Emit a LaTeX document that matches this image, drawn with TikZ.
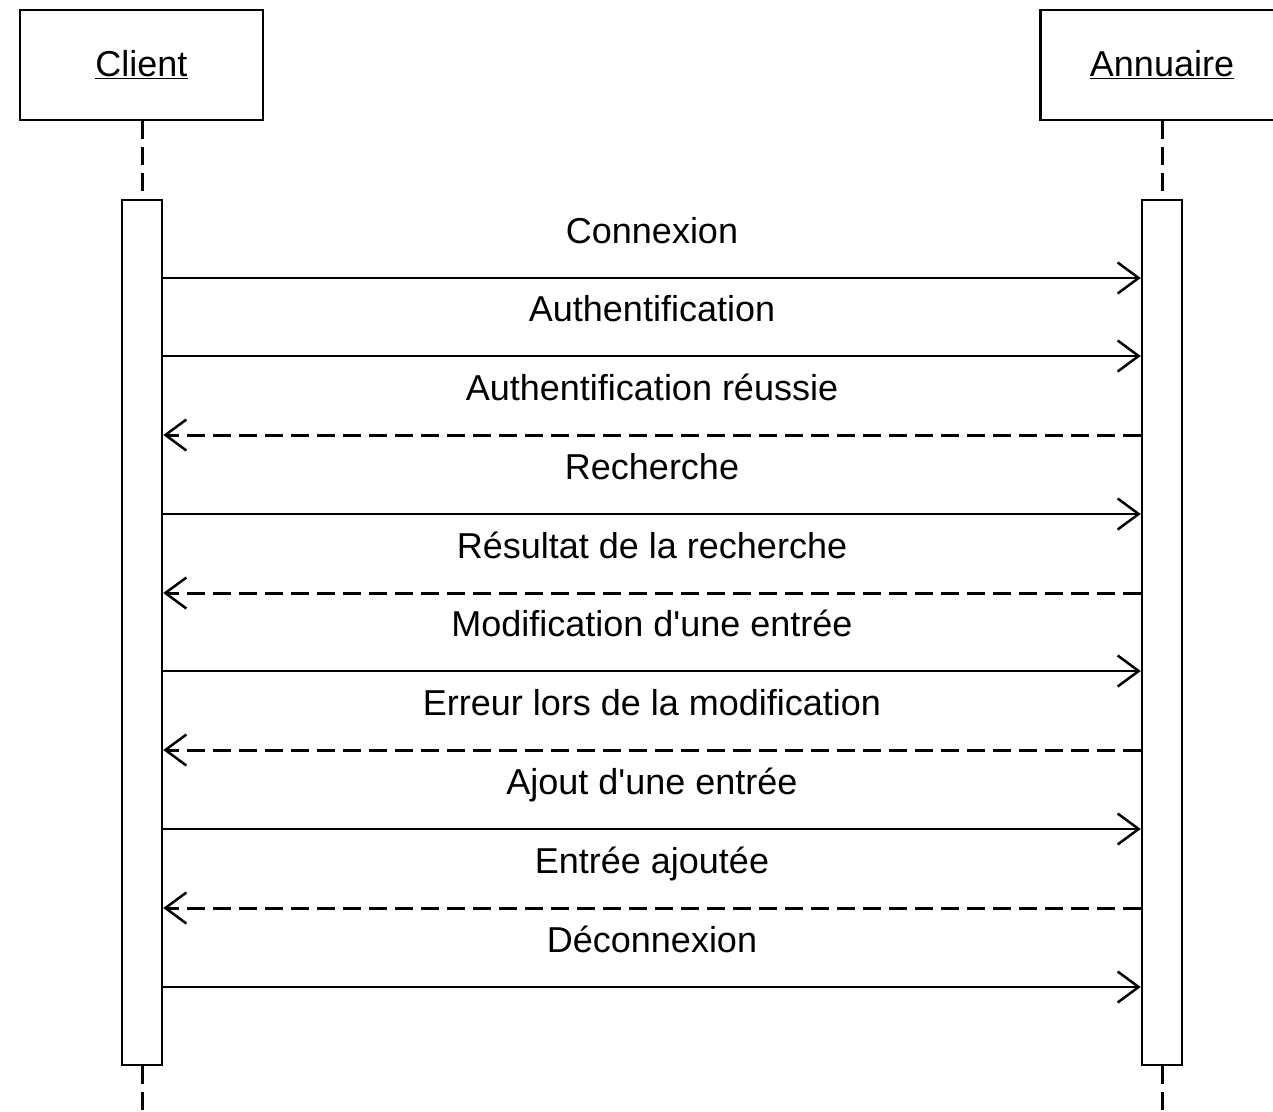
\documentclass[tikz,border=0pt]{standalone}
\usepackage{fontspec}
\setmainfont{Liberation Sans}
\usetikzlibrary{arrows.meta}
\begin{document}
\begin{tikzpicture}[x=1pt,y=-1pt, line width=2.5pt,
 actor/.style={draw, fill=white, minimum width=243pt, minimum height=110pt, inner sep=0pt, font=\fontsize{36}{42}\selectfont},
 actbar/.style={draw, fill=white, minimum width=40pt, minimum height=865pt, inner sep=0pt},
 life/.style={line width=3pt, dash pattern=on 18pt off 8pt},
 call/.style={-{Straight Barb[length=21pt,width=31pt,line width=2.5pt]}},
 reply/.style={call, line width=3pt, dash pattern=on 18pt off 8pt},
 lbl/.style={anchor=base, font=\fontsize{36}{42}\selectfont, inner sep=0pt}]
\useasboundingbox (0,0) rectangle (1273,1111);
\node[actor] (client) at (141.5,65) {\underline{Client}};
\node[actor] (annu) at (1162,65) {\underline{Annuaire}};
\node[actbar] (cbar) at (142,632.5) {};
\node[actbar] (abar) at (1162,632.5) {};
\coordinate (cend) at (142,1125);
\coordinate (aend) at (1162,1125);
\draw[life] (client.south -| cbar.north) -- (cbar.north);
\draw[life] (annu.south -| abar.north) -- (abar.north);
\draw[life] (cbar.south) -- (cend);
\draw[life] (abar.south) -- (aend);
\foreach \y/\t/\s in {278/Connexion/call, 356/Authentification/call, 435/Authentification réussie/reply, 514/Recherche/call, 593/Résultat de la recherche/reply, 671/Modification d\textquotesingle une entrée/call, 750/Erreur lors de la modification/reply, 829/Ajout d\textquotesingle une entrée/call, 908/Entrée ajoutée/reply, 987/Déconnexion/call}{
  \node[lbl] (l\y) at (652,\y-35) {\t};
}
\foreach \y in {278,356,514,671,829,987}{
  \draw[call] (cbar.east |- 0,\y) -- (abar.west |- 0,\y);
}
\foreach \y in {435,593,750,908}{
  \draw[reply] (abar.west |- 0,\y) -- (cbar.east |- 0,\y);
}
\end{tikzpicture}
\end{document}
